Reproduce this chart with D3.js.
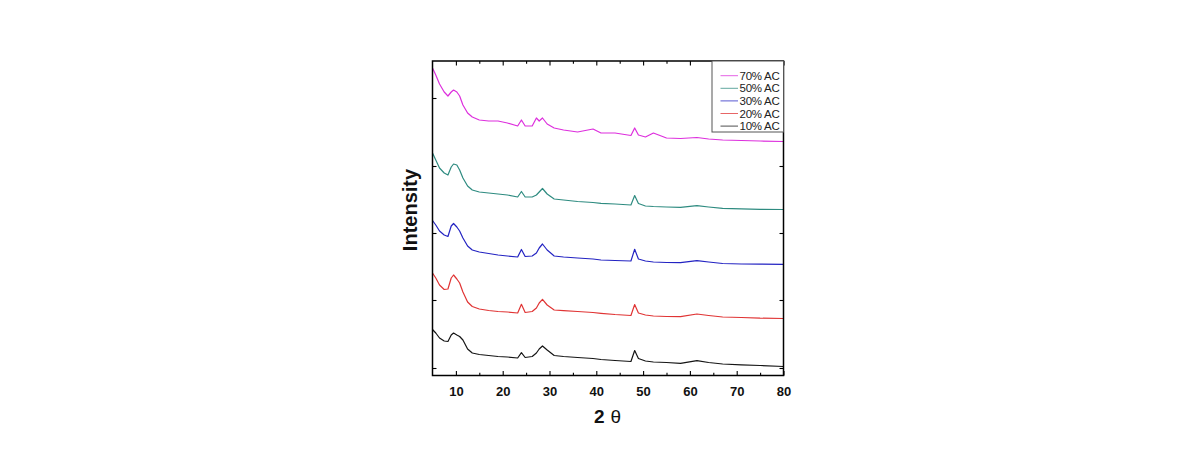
<!DOCTYPE html>
<html>
<head>
<meta charset="utf-8">
<script src="https://cdn.jsdelivr.net/npm/d3@7"></script>
<style>
  html, body { margin: 0; padding: 0; background: #fff; }
  svg { display: block; font-family: "Liberation Sans", Arial, sans-serif; }
</style>
</head>
<body>
<svg id="chart" width="1190" height="457"></svg>
<script>
// 2θ positions (degrees)
const twoTheta = [5, 5.7, 6.5, 7.5, 8.3, 9.0, 9.5, 10.2, 10.8, 11.5, 12.5, 13.5, 15, 17, 19, 21, 23.2, 24, 24.8, 26.3,
  27.2, 27.8, 28.5, 29.5, 31, 33, 36, 39.3, 41, 44, 47.4, 48.2, 49, 50.5, 52.2, 55, 58, 61.5, 64, 67, 71, 75, 80];

// Stacked intensities (a.u.)
const ac70 = [306, 299, 290, 282, 278, 282, 284, 282, 278, 269, 261, 257, 254, 253, 253, 251, 248, 254, 248, 248,
  256, 253, 256, 250, 246, 244, 242, 245, 241, 241, 238.5, 246, 239, 237, 241, 236, 235.5, 236.5, 235, 234, 233.5, 233, 232.5];
const ac50 = [221, 214, 206, 201, 199, 207, 210, 209, 204, 196, 188, 184, 182, 181, 180, 179, 177, 182.5, 177, 177,
  179, 182, 185.5, 180, 175, 174, 172.5, 171.5, 170.7, 170, 169, 178.5, 170.5, 168, 167.5, 167, 166.7, 168.3, 167, 165.7, 165.2, 164.7, 164.5];
const ac30 = [153.5, 149, 143, 139, 137.5, 148, 150.5, 147, 143, 136, 128, 124, 122, 120.5, 119, 118, 117, 124.5, 117.5, 118,
  121, 126, 130, 124, 118, 117, 116, 115, 114, 113.5, 113, 124.7, 115, 113, 112, 111.5, 111.3, 113.3, 112, 110.5, 110, 109.8, 109.7];
const ac20 = [101, 96, 89, 84.5, 85, 96, 99, 95, 91, 82, 72, 67.5, 65, 63.5, 62.5, 62, 61, 69.7, 61.5, 62.5,
  66, 71, 74.7, 69, 64, 63.3, 62.5, 61.5, 60.7, 59.5, 58.5, 69.5, 61, 59, 58, 57.5, 57.3, 60, 58.5, 57, 56.5, 55.8, 55.5];
const ac10 = [44.5, 41, 36, 33, 32.5, 39, 41, 39, 37.5, 34, 25, 21, 19.5, 18.5, 17.5, 17, 16, 21.3, 16.5, 17.5,
  21, 25, 28, 24, 18.5, 17.5, 16.5, 15.5, 14.5, 13.5, 12.5, 23.5, 15.5, 13, 12, 11.5, 10.7, 13.3, 11.5, 10, 9.2, 8.5, 7.5];

const seriesNames = ["70% AC", "50% AC", "30% AC", "20% AC", "10% AC"];
const seriesColors = ["#dd2fdd", "#2e8b80", "#2323c2", "#e03434", "#151515"];
const seriesValues = [ac70, ac50, ac30, ac20, ac10];

const xMajorTicks = [10, 20, 30, 40, 50, 60, 70, 80];
const xMinorTicks = [15, 25, 35, 45, 55, 65, 75];
const yTicks = [6, 74, 141, 208, 276];
const xTitle = "2";
const xTitleSymbol = "θ";
const yTitle = "Intensity";

// ---- layout ----
const L = 432.5, R = 783.5, T = 61, B = 375.5;
const svg = d3.select("#chart");
svg.append("rect").attr("width", 1190).attr("height", 457).attr("fill", "#fff");

const x = d3.scaleLinear().domain([5, 80]).range([L, R]);
const y = d3.scaleLinear().domain([-1.5, 313]).range([B, T]);

const line = d3.line()
  .x((d, i) => x(twoTheta[i]))
  .y(d => y(d));

const curves = svg.append("g");
seriesValues.forEach((vals, k) => {
  curves.append("path")
    .attr("d", line(vals))
    .attr("fill", "none")
    .attr("stroke", seriesColors[k])
    .attr("stroke-width", 1.2)
    .attr("stroke-linejoin", "round");
});

function styleAxis(g) {
  g.select(".domain").remove();
  g.selectAll(".tick line").attr("stroke", "#000").attr("stroke-width", 1.1);
}

// bottom axis
svg.append("g").attr("transform", `translate(0,${B})`)
  .call(d3.axisBottom(x).tickValues(xMajorTicks).tickSize(-4.5).tickPadding(11.5).tickFormat(d3.format("d")))
  .call(styleAxis)
  .call(g => g.selectAll("text").attr("font-size", 13).attr("font-weight", "bold")
    .attr("fill", "#111").attr("font-family", "'Liberation Sans', Arial, sans-serif"));
svg.append("g").attr("transform", `translate(0,${B})`)
  .call(d3.axisBottom(x).tickValues(xMinorTicks).tickSize(-2.7).tickFormat(""))
  .call(styleAxis);
// top axis
svg.append("g").attr("transform", `translate(0,${T})`)
  .call(d3.axisTop(x).tickValues(xMajorTicks).tickSize(-4.5).tickFormat(""))
  .call(styleAxis);
svg.append("g").attr("transform", `translate(0,${T})`)
  .call(d3.axisTop(x).tickValues(xMinorTicks).tickSize(-2.7).tickFormat(""))
  .call(styleAxis);
// left / right axes
svg.append("g").attr("transform", `translate(${L},0)`)
  .call(d3.axisLeft(y).tickValues(yTicks).tickSize(-4).tickFormat(""))
  .call(styleAxis);
svg.append("g").attr("transform", `translate(${R},0)`)
  .call(d3.axisRight(y).tickValues(yTicks).tickSize(-4).tickFormat(""))
  .call(styleAxis);

// frame
svg.append("rect").attr("x", L).attr("y", T).attr("width", R - L).attr("height", B - T)
  .attr("fill", "none").attr("stroke", "#000").attr("stroke-width", 1.5);

// legend
const lg = svg.append("g");
lg.append("rect").attr("x", 712).attr("y", T).attr("width", R - 712).attr("height", 71)
  .attr("fill", "#fff").attr("stroke", "#555").attr("stroke-width", 1);
seriesNames.forEach((name, k) => {
  const cy = 75.7 + k * 12.6;
  lg.append("line").attr("x1", 720.5).attr("x2", 738).attr("y1", cy).attr("y2", cy)
    .attr("stroke", seriesColors[k]).attr("stroke-width", 1).attr("opacity", 0.75);
  lg.append("text").attr("x", 739.5).attr("y", cy).attr("dy", "0.35em")
    .attr("font-size", 11.5).attr("letter-spacing", -0.25).attr("fill", "#222").text(name);
});

// titles
const xt = svg.append("text").attr("x", 594).attr("y", 423).attr("fill", "#111");
xt.append("tspan").attr("font-size", 19).attr("font-weight", "bold").text(xTitle);
xt.append("tspan").attr("dx", 6).attr("font-size", 19).attr("font-weight", "normal").text(xTitleSymbol);

svg.append("text").attr("transform", "translate(417,210) rotate(-90)")
  .attr("text-anchor", "middle").attr("font-size", 20).attr("font-weight", "bold")
  .attr("fill", "#111").text(yTitle);
</script>
</body>
</html>
